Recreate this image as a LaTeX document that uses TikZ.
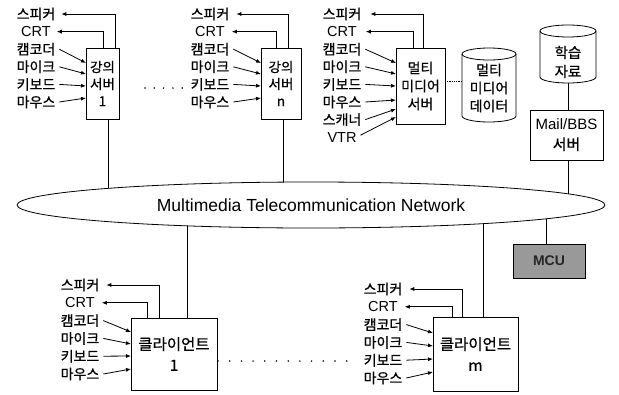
\documentclass[tikz,border=0pt]{standalone}
\usepackage{fontspec}
\setmainfont{Liberation Sans}
\newfontfamily\kr[FakeBold=0.7]{Noto Sans CJK KR}
\usetikzlibrary{shapes.geometric,arrows.meta,backgrounds}
\begin{document}
\begin{tikzpicture}[x=1pt,y=-1pt,
  every node/.style={inner sep=0pt, outer sep=0pt},
  lbl/.style={font=\kr\fontsize{14}{16}\selectfont},
  elbl/.style={font=\fontsize{14.5}{16}\selectfont},
  sbox/.style={draw, line width=0.8pt, align=center},
  arr/.style={line width=0.8pt, -{Latex[length=5pt,width=4pt]}},
  ln/.style={line width=0.8pt},
  dotline/.style={line width=1.7pt, line cap=round},
]
\useasboundingbox (0,0) rectangle (619,394);

% ---------- Server 1 ----------
\node[sbox, minimum width=33, minimum height=71, font=\kr\fontsize{13.5}{17}\selectfont] (s1) at (102.5,83.5) {강의\\서버\\1};
\node[lbl] (s1spk) at (36,14) {스피커};
\node[elbl] (s1crt) at (36,31.6) {CRT};
\node[lbl] (s1cam) at (36,49.2) {캠코더};
\node[lbl] (s1mic) at (36,66.8) {마이크};
\node[lbl] (s1kbd) at (36,84.4) {키보드};
\node[lbl] (s1mou) at (36,102) {마우스};
\draw[arr] ([xshift=29pt]s1.north west) |- ([xshift=6pt]s1spk.east);
\draw[arr] ([xshift=17pt]s1.north west) |- ([xshift=6pt]s1crt.east);
\draw[arr] ([xshift=4pt]s1cam.east) -- ([yshift=20.5pt]s1.west);
\draw[arr] ([xshift=4pt]s1mic.east) -- ([yshift=9.5pt]s1.west);
\draw[arr] ([xshift=4pt]s1kbd.east) -- ([yshift=-2.5pt]s1.west);
\draw[arr] ([xshift=4pt]s1mou.east) -- ([yshift=-14.5pt]s1.west);

\draw[dotline, dash pattern=on 0pt off 9.3pt] (145,88) -- (183,88);

% ---------- Server n ----------
\node[sbox, minimum width=40, minimum height=71, font=\kr\fontsize{13.5}{17}\selectfont] (sn) at (281,83.5) {강의\\서버\\n};
\node[lbl] (snspk) at (210,14) {스피커};
\node[elbl] (sncrt) at (210,31.6) {CRT};
\node[lbl] (sncam) at (210,49.2) {캠코더};
\node[lbl] (snmic) at (210,66.8) {마이크};
\node[lbl] (snkbd) at (210,84.4) {키보드};
\node[lbl] (snmou) at (210,102) {마우스};
\draw[arr] ([xshift=27pt]sn.north west) |- ([xshift=7pt]snspk.east);
\draw[arr] ([xshift=15pt]sn.north west) |- ([xshift=7pt]sncrt.east);
\draw[arr] ([xshift=4pt]sncam.east) -- ([yshift=20.5pt]sn.west);
\draw[arr] ([xshift=4pt]snmic.east) -- ([yshift=9.5pt]sn.west);
\draw[arr] ([xshift=4pt]snkbd.east) -- ([yshift=-2.5pt]sn.west);
\draw[arr] ([xshift=4pt]snmou.east) -- ([yshift=-14.5pt]sn.west);

% ---------- Multimedia server ----------
\node[sbox, minimum width=49, minimum height=76, font=\kr\fontsize{14}{18}\selectfont] (mms) at (420.5,86) {멀티\\미디어\\서버};
\node[lbl] (mmspk) at (342,14) {스피커};
\node[elbl] (mmcrt) at (342,31.6) {CRT};
\node[lbl] (mmcam) at (342,49.2) {캠코더};
\node[lbl] (mmmic) at (342,66.8) {마이크};
\node[lbl] (mmkbd) at (342,84.4) {키보드};
\node[lbl] (mmmou) at (342,102) {마우스};
\node[lbl] (mmscn) at (342,119.6) {스캐너};
\node[elbl] (mmvtr) at (342,137.2) {VTR};
\draw[arr] ([xshift=27pt]mms.north west) |- ([xshift=9pt]mmspk.east);
\draw[arr] ([xshift=17pt]mms.north west) |- ([xshift=9pt]mmcrt.east);
\draw[arr] ([xshift=4pt]mmcam.east) -- ([yshift=23pt]mms.west);
\draw[arr] ([xshift=4pt]mmmic.east) -- ([yshift=12pt]mms.west);
\draw[arr] ([xshift=4pt]mmkbd.east) -- ([yshift=0pt]mms.west);
\draw[arr] ([xshift=4pt]mmmou.east) -- ([yshift=-14pt]mms.west);
\draw[arr] ([xshift=4pt]mmscn.east) -- ([yshift=-23pt]mms.west);
\draw[arr] ([xshift=4pt,yshift=2pt]mmvtr.east) -- ([yshift=-31pt]mms.west);

% ---------- Multimedia data (cylinder) ----------
\draw[ln] (489,54) ellipse [x radius=27, y radius=6];
\draw[ln] (462,54) -- (462,116) arc [start angle=180, end angle=0, x radius=27, y radius=6] -- (516,54);
\node[minimum width=54, align=center, font=\kr\fontsize{14}{18}\selectfont] (mmd) at (489,88) {멀티\\미디어\\데이터};
\draw[ln, densely dotted] ([yshift=5pt]mms.east) -- ([yshift=5pt]mms.east -| mmd.west);

% ---------- Learning material (cylinder) + Mail/BBS ----------
\draw[ln] (568,31) ellipse [x radius=28, y radius=6];
\draw[ln] (540,31) -- (540,77) arc [start angle=180, end angle=0, x radius=28, y radius=6] -- (596,31);
\node[align=center, font=\kr\fontsize{14.5}{19}\selectfont] (lm) at (568,62) {학습\\자료};
\coordinate (lmb) at (568,83);
\node[sbox, minimum width=73, minimum height=50, font=\fontsize{15}{20}\selectfont] (mail) at (566.5,135) {Mail/BBS\\{\kr 서버}};
\draw[ln] (lmb) -- (lmb |- mail.north);

% ---------- Network ----------
\node[draw, ellipse, line width=0.8pt, fill=white, minimum width=588, minimum height=46, font=\fontsize{17.5}{20}\selectfont] (net) at (311,205) {Multimedia Telecommunication Network};

% ---------- MCU ----------
\node[draw, line width=0.8pt, fill=black!40, text=black!85, minimum width=72, minimum height=34, font=\bfseries\fontsize{14}{16}\selectfont] (mcu) at (549,261) {MCU};

% ---------- Client 1 ----------
\node[sbox, minimum width=86, minimum height=72, font=\kr\fontsize{15.5}{21}\selectfont] (c1) at (174,354) {클라이언트\\1};
\node[lbl] (c1spk) at (80,285) {스피커};
\node[elbl] (c1crt) at (80,302.8) {CRT};
\node[lbl] (c1cam) at (80,320.6) {캠코더};
\node[lbl] (c1mic) at (80,338.4) {마이크};
\node[lbl] (c1kbd) at (80,356.2) {키보드};
\node[lbl] (c1mou) at (80,374) {마우스};
\draw[arr] ([xshift=28pt]c1.north west) |- ([xshift=7pt]c1spk.east);
\draw[arr] ([xshift=16pt]c1.north west) |- ([xshift=7pt]c1crt.east);
\draw[arr] ([xshift=4pt]c1cam.east) -- ([yshift=22pt]c1.west);
\draw[arr] ([xshift=4pt]c1mic.east) -- ([yshift=10pt]c1.west);
\draw[arr] ([xshift=4pt]c1kbd.east) -- ([yshift=-2pt]c1.west);
\draw[arr] ([xshift=4pt]c1mou.east) -- ([yshift=-15pt]c1.west);

\draw[dotline, dash pattern=on 0pt off 11.7pt] (218,361) -- (347,361);

% ---------- Client m ----------
\node[sbox, minimum width=85, minimum height=74, font=\kr\fontsize{15.5}{21}\selectfont] (cm) at (475.5,354) {클라이언트\\m};
\node[lbl] (cmspk) at (383,289) {스피커};
\node[elbl] (cmcrt) at (383,306.8) {CRT};
\node[lbl] (cmcam) at (383,324.6) {캠코더};
\node[lbl] (cmmic) at (383,342.4) {마이크};
\node[lbl] (cmkbd) at (383,360.2) {키보드};
\node[lbl] (cmmou) at (383,378) {마우스};
\draw[arr] ([xshift=29pt]cm.north west) |- ([xshift=7pt]cmspk.east);
\draw[arr] ([xshift=19pt]cm.north west) |- ([xshift=7pt]cmcrt.east);
\draw[arr] ([xshift=4pt]cmcam.east) -- ([yshift=21pt]cm.west);
\draw[arr] ([xshift=4pt]cmmic.east) -- ([yshift=8pt]cm.west);
\draw[arr] ([xshift=4pt]cmkbd.east) -- ([yshift=-5pt]cm.west);
\draw[arr] ([xshift=4pt]cmmou.east) -- ([yshift=-18pt]cm.west);

% ---------- Connectors to the network (behind the ellipse) ----------
\begin{scope}[on background layer]
  \draw[ln] ([xshift=5.5pt]s1.south) -- ([xshift=5.5pt]s1.south |- net.center);
  \draw[ln] ([xshift=2pt]sn.south) -- ([xshift=2pt]sn.south |- net.center);
  \draw[ln] (mail.south -| lmb) -- (lmb |- net.center);
  \draw[ln] ([xshift=13pt]c1.north) -- ([xshift=13pt]c1.north |- net.center);
  \draw[ln] ([xshift=7.5pt]cm.north) -- ([xshift=7.5pt]cm.north |- net.center);
  \draw[ln] ([xshift=-3pt]mcu.north) -- ([xshift=-3pt]mcu.north |- net.center);
\end{scope}
\end{tikzpicture}
\end{document}
